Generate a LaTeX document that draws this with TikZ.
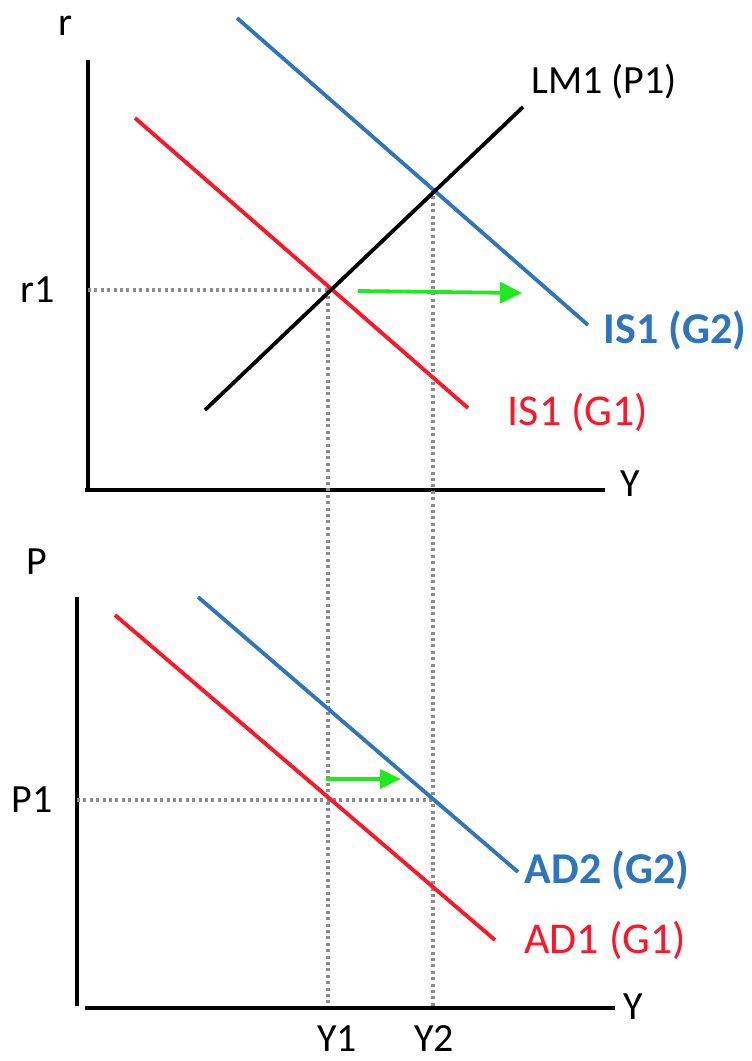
\documentclass[tikz,border=0pt]{standalone}
\usepackage{fontspec}
\setmainfont{Carlito}
\usetikzlibrary{arrows.meta}
\definecolor{isblue}{RGB}{46,117,190}
\definecolor{isred}{RGB}{255,20,40}
\definecolor{arrgreen}{RGB}{34,232,34}
\definecolor{dotgray}{RGB}{140,140,140}
\tikzset{
  axisline/.style={line width=3.8pt,black},
  curve/.style={line width=3.8pt},
  guide/.style={line width=3.2pt,dotgray,dash pattern=on 3pt off 3.4pt},
  shiftarrow/.style={line width=3.8pt,arrgreen},
  axlab/.style={font=\fontsize{40}{48}\selectfont,inner sep=0pt},
  curvelab/.style={font=\fontsize{44}{52}\selectfont,inner sep=0pt},
}
\begin{document}
\begin{tikzpicture}[x=1pt,y=-1pt]
\useasboundingbox (0,0) rectangle (752,1061);
% ---------- top panel ----------
\coordinate (tyTop) at (88,60);
\coordinate (tO) at (88,490);
\coordinate (txEnd) at (605,490);
\coordinate (txStart) at (85,490);
\draw[axisline] (tyTop) -- (tO);
\draw[axisline] (txStart) -- (txEnd);
\node[axlab] (rlab) at (65,26) {r};
\node[axlab] (r1lab) at (38,290) {r1};
\node[axlab] (tYlab) at (630,484) {Y};

\coordinate (E1) at (328,290);
\coordinate (E2) at (433,190);
\coordinate (r1ax) at (88,290);
% guides
\coordinate (Y1ax) at (328,1008);
\coordinate (Y2ax) at (433,1008);
\draw[guide] (r1ax) -- (E1);
\draw[guide] (E1) -- (Y1ax);
\draw[guide] (E2) -- (Y2ax);

% curves
\coordinate (isbA) at (237,18);
\coordinate (isbB) at (588,325);
\coordinate (isrA) at (135,118);
\coordinate (isrB) at (468,408);
\coordinate (lmA) at (205,410);
\coordinate (lmB) at (523,107);
\draw[curve,isblue] (isbA) -- (isbB);
\draw[curve,isred] (isrA) -- (isrB);
\draw[curve,black] (lmA) -- (lmB);
\node[axlab] (lmlab) at (604,82) {LM1 (P1)};
\node[curvelab,isblue] (isblab) at (675,330) {\bfseries IS1 (G2)};
\node[curvelab,isred] (isrlab) at (578,412) {IS1 (G1)};

\coordinate (g1s) at (358,291);
\coordinate (g1e) at (522,293);
\draw[shiftarrow,-{Triangle[length=22pt,width=21pt]}] (g1s) -- (g1e);

% ---------- bottom panel ----------
\coordinate (byTop) at (77,597);
\coordinate (bO) at (77,1006);
\coordinate (bxStart) at (85,1008);
\coordinate (bxEnd) at (615,1008);
\draw[axisline] (byTop) -- (bO);
\draw[axisline] (bxStart) -- (bxEnd);
\node[axlab] (Plab) at (37,562) {P};
\node[axlab] (P1lab) at (32,800) {P1};
\node[axlab] (bYlab) at (633,1007) {Y};
\node[axlab] (Y1lab) at (337,1039) {Y1};
\node[axlab] (Y2lab) at (434,1039) {Y2};

\coordinate (P1ax) at (77,800);
\coordinate (F2) at (433,800);
\draw[guide] (P1ax) -- (F2);

\coordinate (adbA) at (198,597);
\coordinate (adbB) at (518,872);
\coordinate (adrA) at (115,615);
\coordinate (adrB) at (495,940);
\draw[curve,isblue] (adbA) -- (adbB);
\draw[curve,isred] (adrA) -- (adrB);
\node[curvelab,isblue] (adblab) at (607,870) {\bfseries AD2 (G2)};
\node[curvelab,isred] (adrlab) at (605,940) {AD1 (G1)};

\coordinate (g2s) at (326,779);
\coordinate (g2e) at (401,779);
\draw[shiftarrow,-{Triangle[length=21pt,width=19pt]}] (g2s) -- (g2e);
\end{tikzpicture}
\end{document}
